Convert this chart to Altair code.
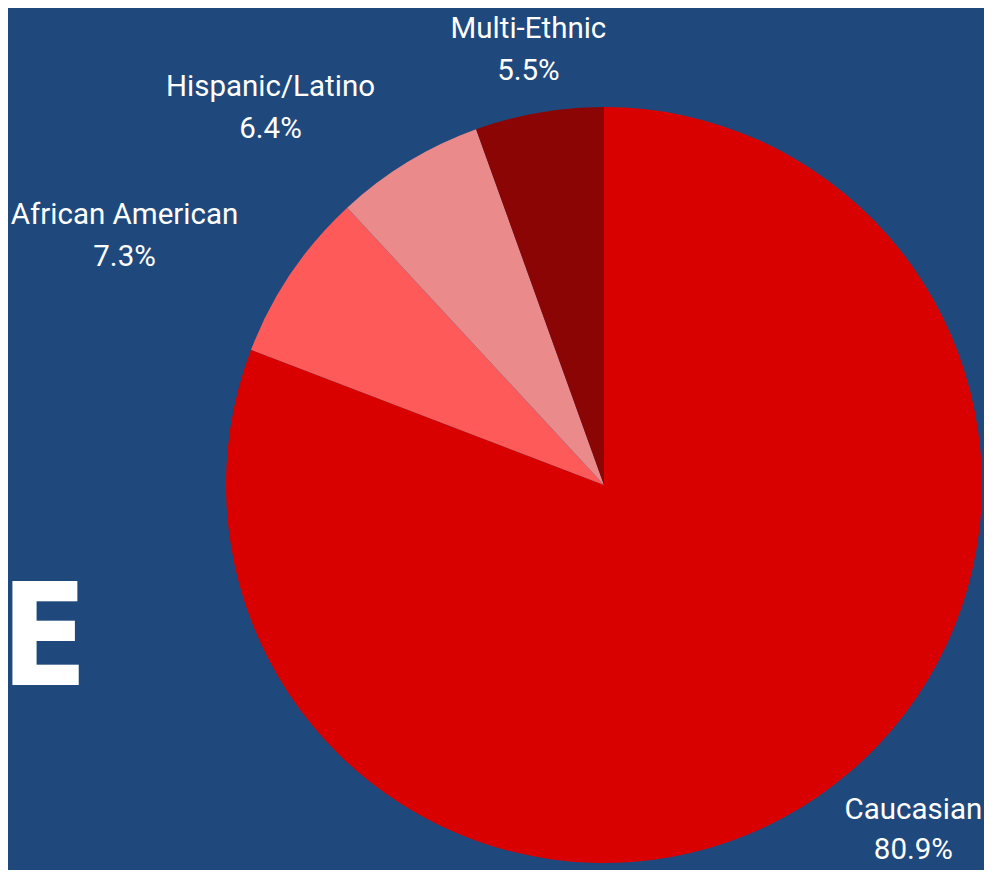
import altair as alt
import pandas as pd

categories = ["Caucasian", "African American", "Hispanic/Latino", "Multi-Ethnic"]
values = [80.9, 7.3, 6.4, 5.5]
pct_labels = ["80.9%", "7.3%", "6.4%", "5.5%"]
colors = ["#d90000", "#ff5a5a", "#eb8a8a", "#8b0505"]
big_title = ["RACE"]

df = pd.DataFrame({"category": categories, "value": values, "pct": pct_labels,
                   "idx": list(range(len(categories)))})
total = sum(values)

W, H = 976, 862
CX, CY = 596, 477
R = 378
LABEL_R = 440
BG = "#1f497d"

theta_scale = alt.Scale(domain=[0, total])
color_scale = alt.Scale(domain=categories, range=colors)

arcs = alt.Chart(df).mark_arc(outerRadius=R).encode(
    theta=alt.Theta("value:Q", stack=True, scale=theta_scale),
    color=alt.Color("category:N", scale=color_scale, legend=None),
    order=alt.Order("idx:Q"),
    x=alt.value(CX),
    y=alt.value(CY),
)

base = alt.Chart(df).transform_window(
    cum="sum(value)", sort=[alt.SortField("idx")]
).transform_calculate(
    mid="datum.cum - datum.value / 2",
    label="datum.category + '\\n' + datum.pct",
)

offsets = {
    "Caucasian": (60, -38),
    "African American": (-115, -23),
    "Hispanic/Latino": (-105, -22),
    "Multi-Ethnic": (0, -23),
}

label_layers = []
for cat in categories:
    dx, dy = offsets[cat]
    label_layers.append(
        base.transform_filter(alt.datum.category == cat).mark_text(
            radius=LABEL_R, dx=dx, dy=dy, fontSize=29.5, font="Roboto",
            color="white", lineHeight=40 if cat == "Caucasian" else 42,
            lineBreak="\n", align="center", baseline="middle",
        ).encode(
            theta=alt.Theta("mid:Q", stack=False, scale=theta_scale),
            text="label:N",
            x=alt.value(CX),
            y=alt.value(CY),
        )
    )

title = alt.Chart(pd.DataFrame({"t": big_title})).mark_text(
    align="right", baseline="middle", fontSize=142, fontWeight="bold",
    font="DejaVu Sans Condensed", color="white",
).encode(x=alt.value(80), y=alt.value(634), text="t:N")

chart = alt.layer(arcs, *label_layers, title).properties(
    width=W, height=H, autosize=alt.AutoSizeParams(type="none"), padding=0,
    background=BG,
).configure_view(strokeWidth=0)

chart.save("out.html", embed_options={"renderer": "svg", "actions": False})
